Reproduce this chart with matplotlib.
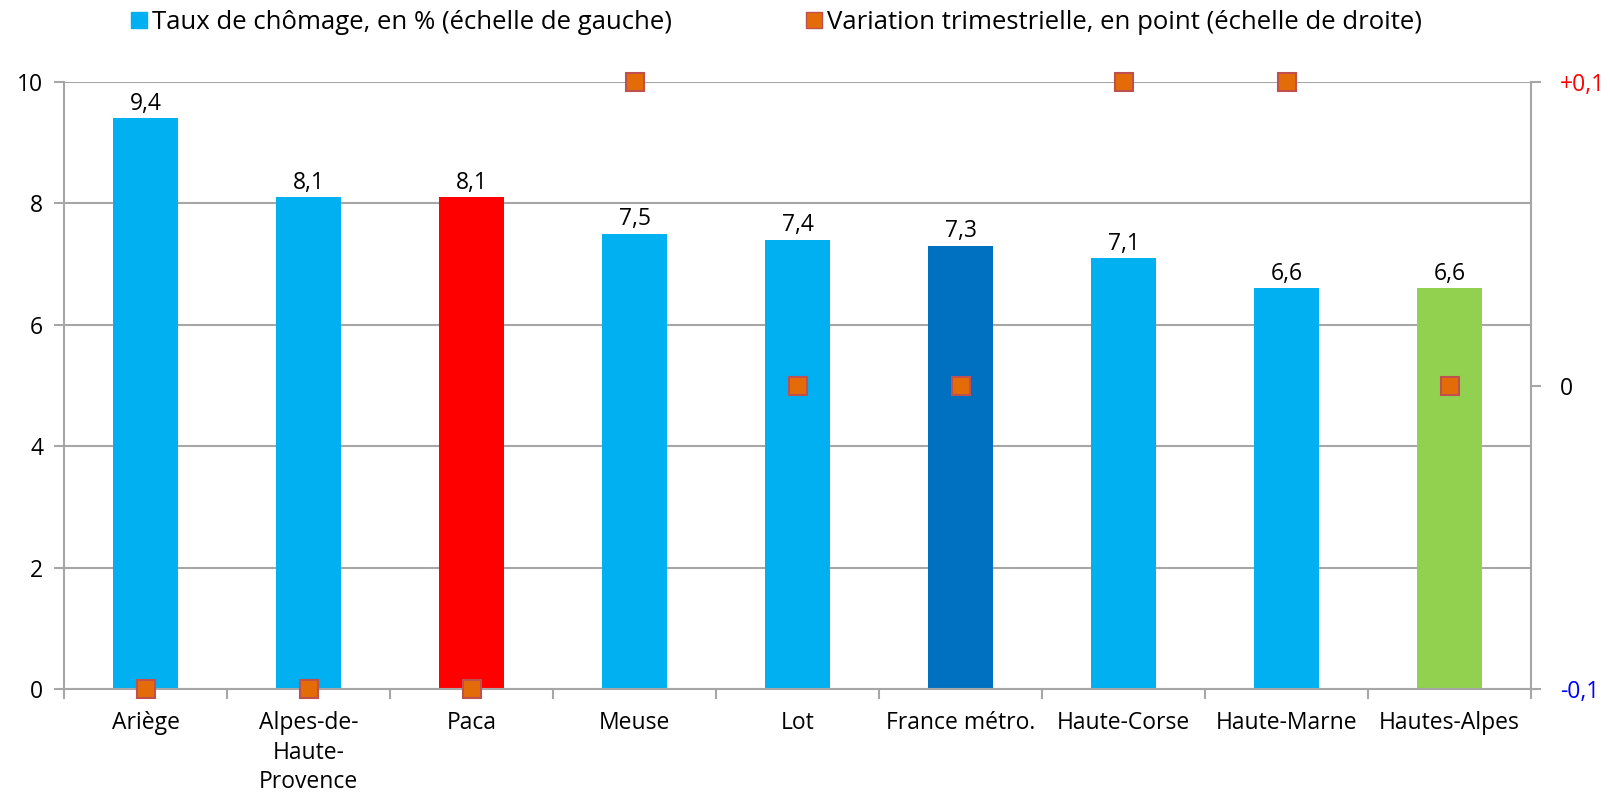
import numpy as np
import matplotlib.pyplot as plt

plt.rcParams['font.family'] = ['Open Sans', 'DejaVu Sans']

categories = ['Ariège', 'Alpes-de-\nHaute-\nProvence', 'Paca', 'Meuse', 'Lot',
              'France métro.', 'Haute-Corse', 'Haute-Marne', 'Hautes-Alpes']
taux = [9.4, 8.1, 8.1, 7.5, 7.4, 7.3, 7.1, 6.6, 6.6]
variation = [-0.1, -0.1, -0.1, 0.1, 0.0, 0.0, 0.1, 0.1, 0.0]
bar_colors = ['#00B0F0', '#00B0F0', '#FF0000', '#00B0F0', '#00B0F0',
              '#0070C0', '#00B0F0', '#00B0F0', '#92D050']

grid_col = '#A6A6A6'
fs = 16.5
x = np.arange(len(categories))

fig = plt.figure(figsize=(16.1, 7.98), dpi=100)
ax = fig.add_axes([0.0398, 0.1366, 0.9112, 0.7606])

ax.bar(x, taux, width=0.4, color=bar_colors, zorder=2)
for xi, v in zip(x, taux):
    ax.text(xi, v + 0.04, f'{v:.1f}'.replace('.', ','), ha='center', va='bottom',
            fontsize=fs, color='black')

ax.set_xlim(-0.5, len(categories) - 0.5)
ax.set_ylim(0, 10)
ax.set_yticks([0, 2, 4, 6, 8, 10])
ax.yaxis.grid(True, color=grid_col, lw=1.5, zorder=0)
ax.set_axisbelow(True)
ax.set_xticks(x)
ax.set_xticklabels(categories, fontsize=fs, linespacing=1.3)
ax.set_xticks(np.arange(-0.5, len(categories), 1), minor=True)
ax.tick_params(axis='x', which='major', length=0, pad=16)
ax.tick_params(axis='x', which='minor', length=7, color=grid_col, width=1.5)
ax.tick_params(axis='y', labelsize=fs, length=7, color=grid_col, width=1.5, pad=8)
for s in ['top', 'right']:
    ax.spines[s].set_visible(False)
for s in ['left', 'bottom']:
    ax.spines[s].set_color(grid_col)
    ax.spines[s].set_linewidth(1.5)

ax2 = ax.twinx()
ax2.set_ylim(-0.1, 0.1)
ax2.plot(x, variation, ls='none', marker='s', markersize=13.5,
         markerfacecolor='#E36C09', markeredgecolor='#C0504D', markeredgewidth=1.5,
         clip_on=False, zorder=5)
ax2.set_yticks([-0.1, 0, 0.1])
ax2.set_yticklabels(['-0,1', '0', '+0,1'], fontsize=fs)
for lab, c in zip(ax2.get_yticklabels(), ['blue', 'black', 'red']):
    lab.set_color(c)
ax2.tick_params(axis='y', length=7, color=grid_col, width=1.5, pad=14)
for s in ['top', 'left', 'bottom']:
    ax2.spines[s].set_visible(False)
ax2.spines['right'].set_color(grid_col)
ax2.spines['right'].set_linewidth(1.5)

# légende en haut
h1 = plt.Line2D([], [], ls='none', marker='s', markersize=12, color='#00B0F0')
h2 = plt.Line2D([], [], ls='none', marker='s', markersize=12,
                markerfacecolor='#E36C09', markeredgecolor='#C0504D')
fig.legend([h1, h2], ['Taux de chômage, en % (échelle de gauche)',
                      'Variation trimestrielle, en point (échelle de droite)'],
           loc='center', bbox_to_anchor=(0.482, 0.972), ncol=2, frameon=False,
           fontsize=18.5, handletextpad=0.15, columnspacing=5.2, handlelength=0.7)

fig.savefig('out.png', dpi=100)
